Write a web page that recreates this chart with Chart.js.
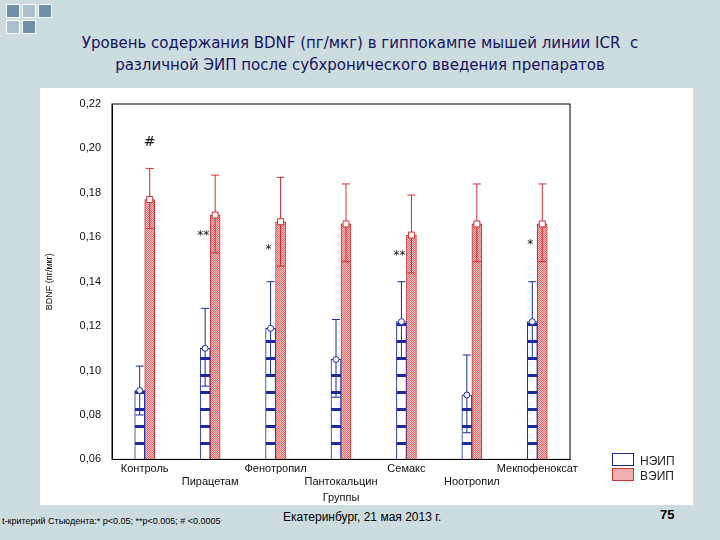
<!DOCTYPE html>
<html><head><meta charset="utf-8">
<script src="https://cdn.jsdelivr.net/npm/chart.js@4"></script>
<style>
body{margin:0;width:720px;height:540px;background:#cddcdf;position:relative;overflow:hidden;font-family:"DejaVu Sans",sans-serif}
#title{position:absolute;left:0;top:32px;width:720px;text-align:center;color:#14145e;font-size:15px;line-height:22px}
#panel{position:absolute;left:40px;top:88px;width:653px;height:417px;background:#fff}
.sq{position:absolute;width:12px;height:12px;border:1px solid #fff;background:#6d8fa8}
#foot1{position:absolute;left:2px;top:516px;font-size:9px;font-family:Arial,"Liberation Sans"}
#foot2{position:absolute;left:283px;top:510px;font-size:12px;font-family:Arial,"Liberation Sans"}
#foot3{position:absolute;left:660px;top:507px;font-size:13px;font-weight:bold;font-family:Arial,"Liberation Sans"}
.lg{position:absolute;font:12px Arial,"Liberation Sans";color:#222}
.lg i{display:inline-block;width:20px;height:11px;margin-right:6px;vertical-align:-1px}
</style></head><body>
<div class="sq" style="left:6px;top:4px"></div><div class="sq" style="left:22px;top:4px;background:#aac0cc"></div><div class="sq" style="left:38px;top:4px"></div>
<div class="sq" style="left:6px;top:20px;background:#aac0cc"></div><div class="sq" style="left:22px;top:20px"></div>
<div id="title">Уровень содержания BDNF (пг/мкг) в гиппокампе мышей линии ICR&nbsp; с<br>различной ЭИП после субхронического введения препаратов</div>
<div id="panel"><canvas id="c" width="653" height="417"></canvas></div>
<div class="lg" style="left:612px;top:453px"><i style="border:1px solid #1a2a9a;background:#fff"></i>НЭИП</div>
<div class="lg" style="left:612px;top:468px"><i style="border:1px solid #d03030;background:#f4b0b0"></i>ВЭИП</div>
<div id="foot1">t-критерий Стьюдента:* p&lt;0.05; **p&lt;0.005; # &lt;0.0005</div>
<div id="foot2">Екатеринбург, 21 мая 2013 г.</div>
<div id="foot3">75</div>
<script>
const groups = ['Контроль', 'Пирацетам', 'Фенотропил', 'Пантокальцин', 'Семакс', 'Ноотропил', 'Мекпофеноксат'];
const low = [0.091, 0.110, 0.119, 0.105, 0.122, 0.089, 0.122];
const lowErrLo = [0.080, 0.093, 0.098, 0.088, 0.105, 0.072, 0.105];
const lowErrHi = [0.102, 0.128, 0.140, 0.123, 0.140, 0.107, 0.140];
const high = [0.177, 0.170, 0.167, 0.166, 0.161, 0.166, 0.166];
const highErrLo = [0.164, 0.153, 0.147, 0.149, 0.144, 0.149, 0.149];
const highErrHi = [0.191, 0.188, 0.187, 0.184, 0.179, 0.184, 0.184];
const marks = ['#', '**', '*', '', '**', '', '*'];

function stripes() {
    const p = document.createElement('canvas'); p.width = 4; p.height = 17;
    const g = p.getContext('2d');
    g.fillStyle = '#fff'; g.fillRect(0, 0, 4, 17);
    g.fillStyle = '#1a2aa0'; g.fillRect(0, 14, 4, 3);
    return g.createPattern(p, 'repeat');
}
function hatch() {
    const p = document.createElement('canvas'); p.width = 2; p.height = 2;
    const g = p.getContext('2d');
    g.fillStyle = '#f6c6c6'; g.fillRect(0, 0, 2, 2);
    g.fillStyle = '#e06868'; g.fillRect(0, 0, 1, 1); g.fillRect(1, 1, 1, 1);
    return g.createPattern(p, 'repeat');
}

const extras = {
    id: 'extras',
    afterDatasetsDraw(chart) {
        const ctx = chart.ctx, y = chart.scales.y;
        const sets = [[lowErrLo, lowErrHi, low, '#1a2aa0', 'circle'], [highErrLo, highErrHi, high, '#d03030', 'rect']];
        sets.forEach(([lo, hi, v, col, shape], di) => {
            chart.getDatasetMeta(di).data.forEach((bar, i) => {
                const x = bar.x;
                ctx.save(); ctx.strokeStyle = col; ctx.lineWidth = 1;
                ctx.beginPath();
                ctx.moveTo(x, y.getPixelForValue(lo[i])); ctx.lineTo(x, y.getPixelForValue(hi[i]));
                [lo[i], hi[i]].forEach(e => { const py = y.getPixelForValue(e); ctx.moveTo(x - 4, py); ctx.lineTo(x + 4, py); });
                ctx.stroke();
                const py = y.getPixelForValue(v[i]);
                ctx.fillStyle = '#fff';
                ctx.beginPath();
                if (shape === 'circle') ctx.arc(x, py, 3, 0, Math.PI * 2); else ctx.rect(x - 3, py - 3, 6, 6);
                ctx.fill(); ctx.stroke();
                ctx.restore();
            });
        });
        ctx.save(); ctx.fillStyle = '#111'; ctx.textAlign = 'center';
        chart.getDatasetMeta(1).data.forEach((bar, i) => {
            if (!marks[i]) return;
            const big = marks[i] === '#';
            ctx.font = big ? '14px "DejaVu Sans"' : '12px "DejaVu Sans"';
            const py = big ? y.getPixelForValue(0.201) : y.getPixelForValue(Math.max(highErrLo[i], lowErrHi[i]) + 0.006);
            ctx.fillText(marks[i], bar.x - (big ? 0 : 12), py);
        });
        ctx.restore();
    }
};

new Chart(document.getElementById('c'), {
    type: 'bar',
    data: {
        labels: groups,
        datasets: [
            { label: 'НЭИП', data: low, backgroundColor: stripes(), borderColor: '#1a2aa0', borderWidth: 1, barThickness: 10 },
            { label: 'ВЭИП', data: high, backgroundColor: hatch(), borderColor: '#d03030', borderWidth: 1, barThickness: 10 }
        ]
    },
    options: {
        responsive: false, animation: false,
        layout: { padding: { left: 0, right: 123, top: 16, bottom: 0 } },
        plugins: { legend: { display: false }, tooltip: { enabled: false } },
        scales: {
            x: {
                grid: { display: false, drawTicks: false },
                border: { color: '#000' },
                ticks: {
                    autoSkip: false, maxRotation: 0, color: '#111', font: { family: 'Arial, "Liberation Sans"', size: 11 }, padding: 3,
                    callback: (v, i) => i % 2 ? ['', groups[i]] : [groups[i], '']
                },
                title: { display: true, text: 'Группы', color: '#111', font: { family: 'Arial, "Liberation Sans"', size: 11 }, padding: 0 }
            },
            y: {
                min: 0.06, max: 0.22,
                afterFit: s => { s.width = 72; },
                grid: { display: false },
                border: { color: '#000' },
                ticks: { stepSize: 0.02, color: '#111', font: { family: 'Arial, "Liberation Sans"', size: 11 }, callback: v => v.toFixed(2).replace('.', ',') },
                title: { display: true, text: 'BDNF (пг/мкг)', color: '#111', font: { family: 'Arial, "Liberation Sans"', size: 9 } }
            }
        }
    },
    plugins: [extras, {
        id: 'frame',
        afterDraw(chart) {
            const a = chart.chartArea, ctx = chart.ctx;
            ctx.save(); ctx.strokeStyle = '#000'; ctx.lineWidth = 1;
            ctx.strokeRect(a.left, a.top, a.right - a.left, a.bottom - a.top);
            ctx.restore();
        }
    }]
});
</script>
</body></html>
